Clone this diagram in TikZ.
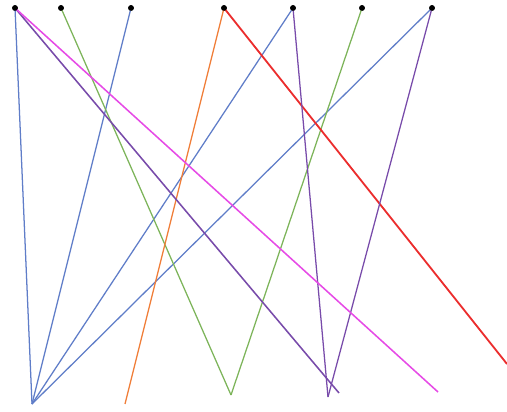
\documentclass[tikz,border=0pt]{standalone}
\usepackage{tikz}
\usetikzlibrary{positioning}
\definecolor{lblue}{RGB}{95,125,200}
\definecolor{lgreen}{RGB}{125,180,90}
\definecolor{lorange}{RGB}{240,125,55}
\definecolor{lred}{RGB}{235,45,45}
\definecolor{lpurple}{RGB}{120,75,170}
\definecolor{lpink}{RGB}{230,75,230}
\tikzset{
  dot/.style={circle, fill=black, inner sep=0pt, minimum size=4pt},
  edge/.style={line width=0.9pt}
}

\begin{document}
\begin{tikzpicture}[x=0.025cm, y=-0.025cm]
  \useasboundingbox (0,0) rectangle (507,412);
  % top points
  \node[dot] (t1) at (15,8) {};
  \node[dot] (t2) at (61,8) {};
  \node[dot] (t3) at (131,8) {};
  \node[dot] (t4) at (224,8) {};
  \node[dot] (t5) at (293,8) {};
  \node[dot] (t6) at (362,8) {};
  \node[dot] (t7) at (432,8) {};
  % bottom ends
  \coordinate (b1) at (32,404);
  \coordinate (b2) at (125,404);
  \coordinate (b3) at (231,395);
  \coordinate (b4) at (328,397);
  \coordinate (b5) at (339,393);
  \coordinate (b6) at (438,392);
  \coordinate (b7) at (507,364);
  % lines
  \draw[edge, lblue] (t1.center) -- (b1);
  \draw[edge, lblue] (t3.center) -- (b1);
  \draw[edge, lblue] (t5.center) -- (b1);
  \draw[edge, lblue] (t7.center) -- (b1);
  \draw[edge, lgreen] (t2.center) -- (b3);
  \draw[edge, lgreen] (t6.center) -- (b3);
  \draw[edge, lorange] (t4.center) -- (b2);
  \draw[edge, lred, line width=1.3pt] (t4.center) -- (b7);
  \draw[edge, lpurple, line width=1.1pt] (t1.center) -- (b5);
  \draw[edge, lpurple] (t5.center) -- (b4);
  \draw[edge, lpurple] (t7.center) -- (b4);
  \draw[edge, lpink, line width=1.1pt] (t1.center) -- (b6);
  % dots on top
  \foreach \n in {t1,t2,t3,t4,t5,t6,t7}
    \node[dot] at (\n) {};
\end{tikzpicture}
\end{document}
